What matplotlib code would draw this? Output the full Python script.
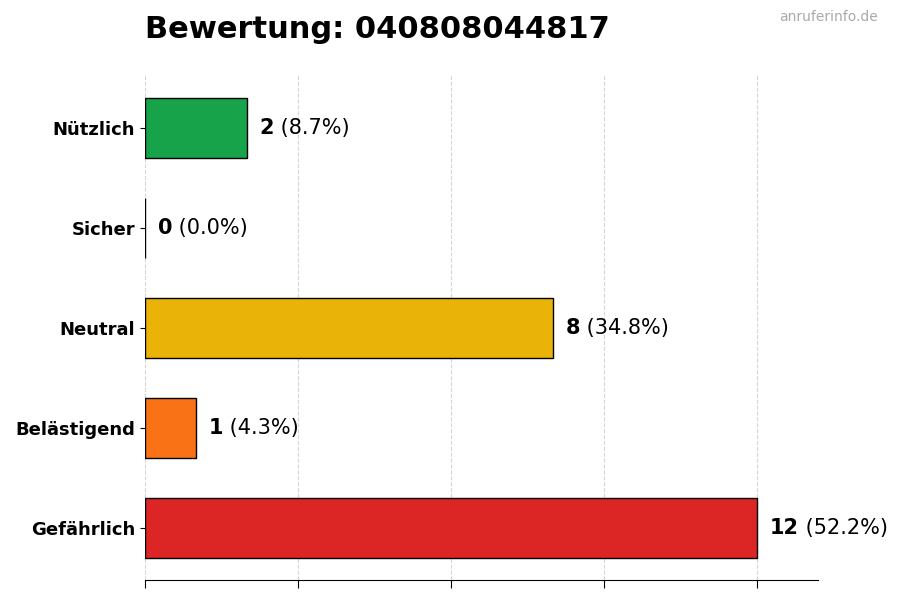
import matplotlib
matplotlib.use("Agg")
import matplotlib.pyplot as plt

categories = ["Gefährlich", "Belästigend", "Neutral", "Sicher", "Nützlich"]
counts = [12, 1, 8, 0, 2]
percents = ["52.2%", "4.3%", "34.8%", "0.0%", "8.7%"]
colors = ["#dc2626", "#f97316", "#eab308", "#16a34a", "#16a34a"]
colors[3] = "#22c55e"

fig = plt.figure(figsize=(9, 6), dpi=100)
ax = fig.add_axes([145/900, 20/600, 673/900, 505/600])
y = list(range(len(categories)))
ax.barh(y, counts, height=0.6, color=colors, edgecolor="black", linewidth=1, zorder=3)
ax.set_xlim(0, 13.2)
ax.set_ylim(-0.52, 4.53)
ax.set_xticks([0, 3, 6, 9, 12])
ax.set_xticklabels([])
ax.tick_params(axis="x", length=6)
ax.grid(axis="x", linestyle="--", color="#cccccc", alpha=0.8, zorder=0)
ax.set_yticks(y)
ax.set_yticklabels(categories, fontsize=13, fontweight="bold")
for s in ["top", "right", "left"]:
    ax.spines[s].set_visible(False)

fig.canvas.draw()
r = fig.canvas.get_renderer()
for yi, c, p in zip(y, counts, percents):
    t = ax.text(c + 0.25, yi, str(c), fontsize=15, fontweight="bold", va="center", ha="left")
    bb = t.get_window_extent(renderer=r)
    ax.annotate(f" ({p})", xy=(bb.x1, (bb.y0 + bb.y1) / 2), xycoords="figure pixels",
                fontsize=15, va="center", ha="left")

fig.text(145/900, 1 - 30/600, "Bewertung: 040808044817", fontsize=22, fontweight="bold", va="center", ha="left")
fig.text(878/900, 1 - 17/600, "anruferinfo.de", fontsize=10, color="#aaaaaa", va="center", ha="right")
fig.savefig("out.png", dpi=100)
